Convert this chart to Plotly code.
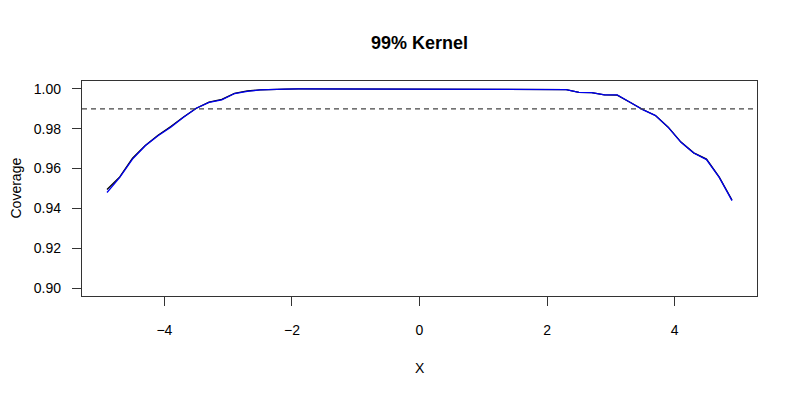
import plotly.graph_objects as go

# grid of X values
x_vals = [-4.9, -4.7, -4.5, -4.3, -4.1, -3.9, -3.7, -3.5, -3.3, -3.1,
          -2.9, -2.7, -2.5, -2.3, -2.1, -1.9, -1.7, -1.5, -1.3, -1.1,
          -0.9, -0.7, -0.5, -0.3, -0.1, 0.1, 0.3, 0.5, 0.7, 0.9,
          1.1, 1.3, 1.5, 1.7, 1.9, 2.1, 2.3, 2.5, 2.7, 2.9,
          3.1, 3.3, 3.5, 3.7, 3.9, 4.1, 4.3, 4.5, 4.7, 4.9]

# coverage, black series
cov_black = [0.9495, 0.9558, 0.9652, 0.9716, 0.9768, 0.9811, 0.9859, 0.9903, 0.9934, 0.9948,
             0.9978, 0.9990, 0.9995, 0.9998, 0.9999, 1.0, 1.0, 1.0, 1.0, 1.0,
             1.0, 1.0, 1.0, 1.0, 1.0, 1.0, 1.0, 1.0, 1.0, 1.0,
             1.0, 1.0, 1.0, 1.0, 1.0, 0.9999, 0.9997, 0.9983, 0.9982, 0.9970,
             0.9969, 0.9933, 0.9897, 0.9867, 0.9808, 0.9733, 0.9679, 0.9648, 0.9557, 0.9442]

# coverage, blue series
cov_blue = [0.9480, 0.9556, 0.9648, 0.9715, 0.9765, 0.9808, 0.9858, 0.9903, 0.9933, 0.9945,
            0.9977, 0.9988, 0.9995, 0.9998, 0.9999, 1.0, 1.0, 1.0, 1.0, 1.0,
            1.0, 1.0, 1.0, 1.0, 1.0, 1.0, 1.0, 1.0, 1.0, 1.0,
            1.0, 1.0, 1.0, 1.0, 1.0, 0.9999, 0.9997, 0.9983, 0.9982, 0.9970,
            0.9970, 0.9933, 0.9896, 0.9866, 0.9807, 0.9732, 0.9678, 0.9645, 0.9556, 0.9439]

target = 0.99

x_ticks = [-4, -2, 0, 2, 4]
y_ticks = [0.90, 0.92, 0.94, 0.96, 0.98, 1.00]

fig = go.Figure()
fig.add_trace(go.Scatter(x=x_vals, y=cov_black, mode="lines",
                         line=dict(color="black", width=1.3), showlegend=False))
fig.add_trace(go.Scatter(x=x_vals, y=cov_blue, mode="lines",
                         line=dict(color="#0000ee", width=1.3), showlegend=False))

# reference line at nominal level
fig.add_shape(type="line", xref="paper", x0=0, x1=1, yref="y", y0=target, y1=target,
              line=dict(color="#444", width=1.3, dash="5px,4px"))

axis_font = dict(family="Liberation Sans, Arial, sans-serif", size=14, color="black")

# page body has an 8px margin, so the figure sits 8px right/down
fig.update_layout(
    width=800, height=400,
    margin=dict(l=74, r=51, t=73, b=112),
    paper_bgcolor="white", plot_bgcolor="white",
    font=axis_font,
    title=dict(text="<b>99% Kernel</b>", x=0.5, xref="paper", y=1 - 35 / 400,
               yref="container", yanchor="middle", xanchor="center",
               font=dict(family="Liberation Sans, Arial, sans-serif", size=18, color="black")),
    xaxis=dict(range=[-5.292, 5.292], tickvals=x_ticks, ticktext=["\u22124", "\u22122", "0", "2", "4"],
               showgrid=False, zeroline=False, showline=True, mirror=True,
               linecolor="#333", linewidth=1.3, ticks="outside", ticklen=9, tickwidth=1.2,
               tickcolor="#333", ticklabelstandoff=12, tickfont=axis_font),
    yaxis=dict(range=[0.896, 1.004], tickvals=y_ticks, tickformat=".2f",
               showgrid=False, zeroline=False, showline=True, mirror=True,
               linecolor="#333", linewidth=1.3, ticks="outside", ticklen=9, tickwidth=1.2,
               tickcolor="#333", ticklabelstandoff=8, tickfont=axis_font),
    annotations=[
        dict(text="X", xref="paper", x=0.5, yref="paper", y=-(368 - 296) / 215,
             showarrow=False, xanchor="center", yanchor="middle", font=axis_font),
        dict(text="Coverage", xref="paper", x=-(82 - 15) / 675, yref="paper", y=0.5,
             showarrow=False, textangle=-90, xanchor="center", yanchor="middle", font=axis_font),
    ],
)

fig.write_html("out.html")
